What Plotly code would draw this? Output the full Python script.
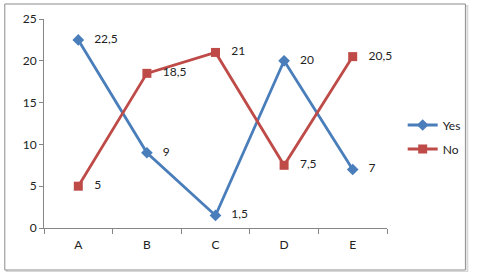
import plotly.graph_objects as go

categories = ["A", "B", "C", "D", "E"]
yes_values = [22.5, 9, 1.5, 20, 7]
no_values = [5, 18.5, 21, 7.5, 20.5]
yes_labels = ["22,5", "9", "1,5", "20", "7"]
no_labels = ["5", "18,5", "21", "7,5", "20,5"]
y_ticks = [0, 5, 10, 15, 20, 25]

W, H = 478, 272
L, R, T, B = 44, 84, 19, 44
pw, ph = W - L - R, H - T - B

def px(x):
    return (x - L) / pw

def py(y):
    return (H - B - y) / ph

blue = "#4A7EBB"
red = "#BE4B48"
font = "Lato, 'Liberation Sans', sans-serif"
pad = "\u00a0\u00a0\u00a0"

fig = go.Figure()
fig.add_trace(go.Scatter(
    x=categories, y=yes_values, name="Yes", mode="lines+markers+text",
    legendgroup="yes", cliponaxis=False,
    text=[pad + t for t in yes_labels], textposition="middle right",
    textfont=dict(size=12, color="#222222", family=font),
    line=dict(color=blue, width=2.8),
    marker=dict(symbol="diamond", size=9, color=blue),
))
fig.add_trace(go.Scatter(
    x=categories, y=no_values, name="No", mode="lines+markers+text",
    legendgroup="no", cliponaxis=False,
    text=[pad + t for t in no_labels], textposition="middle right",
    textfont=dict(size=12, color="#222222", family=font),
    line=dict(color=red, width=2.8),
    marker=dict(symbol="square", size=9, color=red),
))

# chart frame with shadow
fig.add_shape(type="rect", xref="paper", yref="paper",
              x0=px(6), x1=px(476), y0=py(272), y1=py(6),
              line=dict(color="#d8d8d8", width=2), layer="below")
fig.add_shape(type="rect", xref="paper", yref="paper",
              x0=px(4), x1=px(474), y0=py(270), y1=py(4),
              line=dict(color="#8c8c8c", width=1), fillcolor="white", layer="below")

fig.update_layout(
    width=W, height=H,
    margin=dict(l=L, r=R, t=T, b=B),
    paper_bgcolor="white", plot_bgcolor="rgba(0,0,0,0)",
    font=dict(family=font, size=12, color="#222222"),
    showlegend=True,
    legend=dict(x=px(410), y=py(137), xanchor="left", yanchor="middle",
                bgcolor="rgba(0,0,0,0)", font=dict(size=12, family=font),
                tracegroupgap=5, itemwidth=30),
    xaxis=dict(type="category", range=[-0.5, 4.5], showgrid=False,
               showline=True, linecolor="#868686", linewidth=1,
               ticks="outside", tickson="boundaries", ticklen=5, tickcolor="#868686",
               ticklabelstandoff=6, fixedrange=True),
    yaxis=dict(range=[0, 25], tickvals=y_ticks, showgrid=False,
               showline=True, linecolor="#868686", linewidth=1,
               ticks="outside", ticklen=4, tickcolor="#868686",
               ticklabelstandoff=0, zeroline=False, fixedrange=True),
)

fig.write_html("out.html")
